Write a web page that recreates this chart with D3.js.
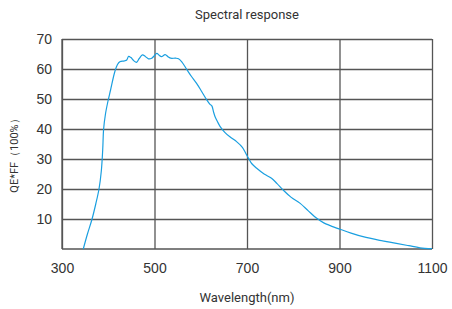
<!DOCTYPE html>
<html lang="en">
<head>
    <meta charset="UTF-8">
    <title>Spectral response</title>
    <script src="https://d3js.org/d3.v7.min.js"></script>
    <style>
        body {
            margin: 0;
            background: #fff;
            font-family: Roboto, "Noto Sans", sans-serif;
        }
        svg {
            display: block;
        }
        .grid line {
            stroke: #555;
            stroke-width: 1.3;
        }
        .grid text {
            fill: #333;
            font-size: 14px;
        }
        .label {
            fill: #333;
            font-size: 13px;
        }
    </style>
</head>
<body>
<svg width="452" height="309"></svg>
<script>
    // wavelength (nm) and QE*FF (%)
    const wavelengths = [346, 355, 365, 373, 380, 385, 388, 390, 394, 399, 405, 414, 420, 425, 435, 440, 444, 449, 455, 461,
        467, 474, 480, 487, 494, 500, 505, 510, 515, 523, 530, 535, 546, 552, 559, 570, 580, 591, 602, 613,
        620, 624, 628, 631, 636, 642, 652, 663, 678, 690, 697, 703, 710, 721, 737, 753, 765, 778, 795, 815,
        832, 850, 866, 880, 901, 925, 951, 987, 1023, 1050, 1074, 1100];
    const qeValues = [0, 5, 10, 15, 20, 26, 33, 40, 45, 49, 53, 59, 61.5, 62.4, 62.7, 63, 64.2, 63.8, 62.8, 62.2,
        63.5, 64.7, 64.2, 63.4, 63.6, 64.5, 65.2, 64.6, 64.1, 64.8, 64, 63.6, 63.6, 63.4, 62.4, 59.8, 57.5, 55.2, 52.5, 49.7,
        48.2, 47.7, 45.5, 44.1, 42.5, 40.8, 38.9, 37.4, 35.7, 33.9, 32, 30.3, 28.5, 26.9, 25, 23.6, 21.8, 19.7, 17.3, 15.2,
        12.8, 10.3, 8.7, 7.8, 6.6, 5.3, 4.1, 2.9, 1.9, 1.1, 0.4, 0.1];
    const xTicks = [300, 500, 700, 900, 1100];
    const yTicks = [10, 20, 30, 40, 50, 60, 70];

    const svg = d3.select("svg"),
        margin = { top: 39, right: 20, bottom: 60, left: 62 },
        width = 370,
        height = 210;

    const x = d3.scaleLinear().domain([300, 1100]).range([0, width]);
    const y = d3.scaleLinear().domain([0, 70]).range([height, 0]);

    const g = svg.append("g").attr("transform", `translate(${margin.left},${margin.top})`);

    // vertical grid + x labels
    g.append("g")
        .attr("class", "grid")
        .attr("transform", `translate(0,${height})`)
        .call(d3.axisBottom(x).tickValues(xTicks).tickSize(-height).tickPadding(14).tickFormat(d3.format("d")))
        .call(a => a.select(".domain").remove());

    // horizontal grid + y labels
    g.append("g")
        .attr("class", "grid")
        .call(d3.axisLeft(y).tickValues(yTicks).tickSize(-width).tickPadding(10))
        .call(a => a.select(".domain").remove());

    // frame: left and bottom edges
    g.append("line").attr("x1", 0).attr("x2", 0).attr("y1", 0).attr("y2", height)
        .attr("stroke", "#555").attr("stroke-width", 1.3);
    g.append("line").attr("x1", 0).attr("x2", width).attr("y1", height).attr("y2", height)
        .attr("stroke", "#555").attr("stroke-width", 1.3);

    const data = wavelengths.map((w, i) => ({ w: w, v: qeValues[i] }));

    g.append("path")
        .datum(data)
        .attr("fill", "none")
        .attr("stroke", "#1a9fe0")
        .attr("stroke-width", 1.2)
        .attr("d", d3.line().x(d => x(d.w)).y(d => y(d.v)).curve(d3.curveCatmullRom));

    svg.append("text")
        .attr("class", "label")
        .attr("x", 247)
        .attr("y", 19)
        .attr("text-anchor", "middle")
        .text("Spectral response");

    svg.append("text")
        .attr("class", "label")
        .attr("x", 247)
        .attr("y", 302)
        .attr("text-anchor", "middle")
        .text("Wavelength(nm)");

    svg.append("text")
        .attr("class", "label")
        .attr("transform", "translate(18,153) rotate(-90)")
        .attr("text-anchor", "middle")
        .style("font-size", "11px")
        .text("QE*FF（100%）");
</script>
</body>
</html>
